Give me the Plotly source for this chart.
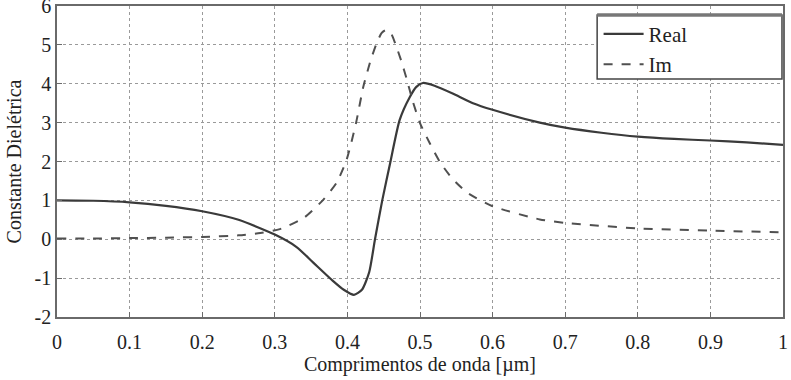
import plotly.graph_objects as go

# Data
real_x = [0.0, 0.05, 0.1, 0.15, 0.2, 0.25, 0.3, 0.33, 0.353, 0.38, 0.395, 0.409, 0.42, 0.43, 0.438, 0.448, 0.459, 0.472, 0.486, 0.495, 0.504, 0.52, 0.545, 0.573, 0.6, 0.665, 0.7, 0.75, 0.8, 0.85, 0.9, 0.95, 1.0]
real_y = [1.0, 0.99, 0.95, 0.86, 0.72, 0.5, 0.12, -0.2, -0.6, -1.07, -1.3, -1.43, -1.3, -0.85, 0.0, 1.0, 1.97, 3.07, 3.66, 3.92, 4.02, 3.95, 3.75, 3.5, 3.33, 3.0, 2.87, 2.74, 2.64, 2.58, 2.54, 2.49, 2.43]

im_x = [0.0, 0.05, 0.1, 0.15, 0.2, 0.25, 0.28, 0.307, 0.34, 0.367, 0.385, 0.399, 0.412, 0.422, 0.432, 0.44, 0.447, 0.453, 0.46, 0.466, 0.474, 0.482, 0.49, 0.5, 0.514, 0.528, 0.545, 0.565, 0.6, 0.665, 0.7, 0.8, 0.9, 1.0]
im_y = [0.02, 0.02, 0.03, 0.04, 0.06, 0.1, 0.16, 0.26, 0.55, 1.02, 1.45, 2.05, 3.0, 3.93, 4.6, 5.03, 5.3, 5.38, 5.3, 5.03, 4.6, 4.1, 3.55, 2.99, 2.45, 1.97, 1.55, 1.2, 0.85, 0.51, 0.42, 0.28, 0.22, 0.18]

x_ticks = [0, 0.1, 0.2, 0.3, 0.4, 0.5, 0.6, 0.7, 0.8, 0.9, 1]
x_tick_labels = ["0", "0.1", "0.2", "0.3", "0.4", "0.5", "0.6", "0.7", "0.8", "0.9", "1"]
y_ticks = [-2, -1, 0, 1, 2, 3, 4, 5, 6]
y_tick_labels = ["-2", "-1", "0", "1", "2", "3", "4", "5", "6"]

serif = "Liberation Serif"

fig = go.Figure()
fig.add_trace(go.Scatter(x=real_x, y=real_y, mode="lines", name="Real",
                         line=dict(color="#3a3a3a", width=2.2, shape="spline", smoothing=0.6)))
fig.add_trace(go.Scatter(x=im_x, y=im_y, mode="lines", name="Im",
                         line=dict(color="#505050", width=2, dash="dash", shape="spline", smoothing=0.6)))

axis_common = dict(showline=True, linecolor="#6a6a6a", linewidth=1.5, mirror=True,
                   showgrid=True, gridcolor="#9a9a9a", griddash="dot", gridwidth=1,
                   ticks="inside", ticklen=5, tickcolor="#6a6a6a", zeroline=False,
                   automargin=False, ticklabeloverflow="allow",
                   tickfont=dict(family=serif, size=20, color="#222"))

fig.update_xaxes(range=[0, 1], tickvals=x_ticks, ticktext=x_tick_labels, ticklabelstandoff=6,
                 title=dict(text="Comprimentos de onda [µm]", font=dict(family=serif, size=20, color="#222"), standoff=4),
                 **axis_common)
fig.update_yaxes(range=[-2, 6], tickvals=y_ticks, ticktext=y_tick_labels,
                 title=dict(text="Constante Dielétrica", font=dict(family=serif, size=20, color="#222"), standoff=8),
                 **axis_common)

fig.update_layout(
    width=791, height=380,
    margin=dict(l=57, r=8, t=6, b=63),
    paper_bgcolor="white", plot_bgcolor="white",
    font=dict(family=serif, color="#222"),
    legend=dict(x=0.746, y=0.975, xanchor="left", yanchor="top",
                bgcolor="rgba(0,0,0,0)", borderwidth=0,
                font=dict(family=serif, size=21, color="#222"),
                tracegroupgap=0, itemwidth=40),
)
# legend frame
fig.add_shape(type="rect", xref="paper", yref="paper", x0=0.744, x1=0.9986, y0=0.765, y1=0.971,
              line=dict(color="#444", width=1.5), fillcolor="white", layer="above")
fig.add_shape(type="line", xref="paper", yref="paper", x0=0.744, x1=0.9986, y0=0.971, y1=0.971,
              line=dict(color="#777", width=3.5), layer="above")

fig.write_html("out.html", config={"displayModeBar": False},
               post_script="document.body.style.margin='0';document.body.style.overflow='hidden';")
